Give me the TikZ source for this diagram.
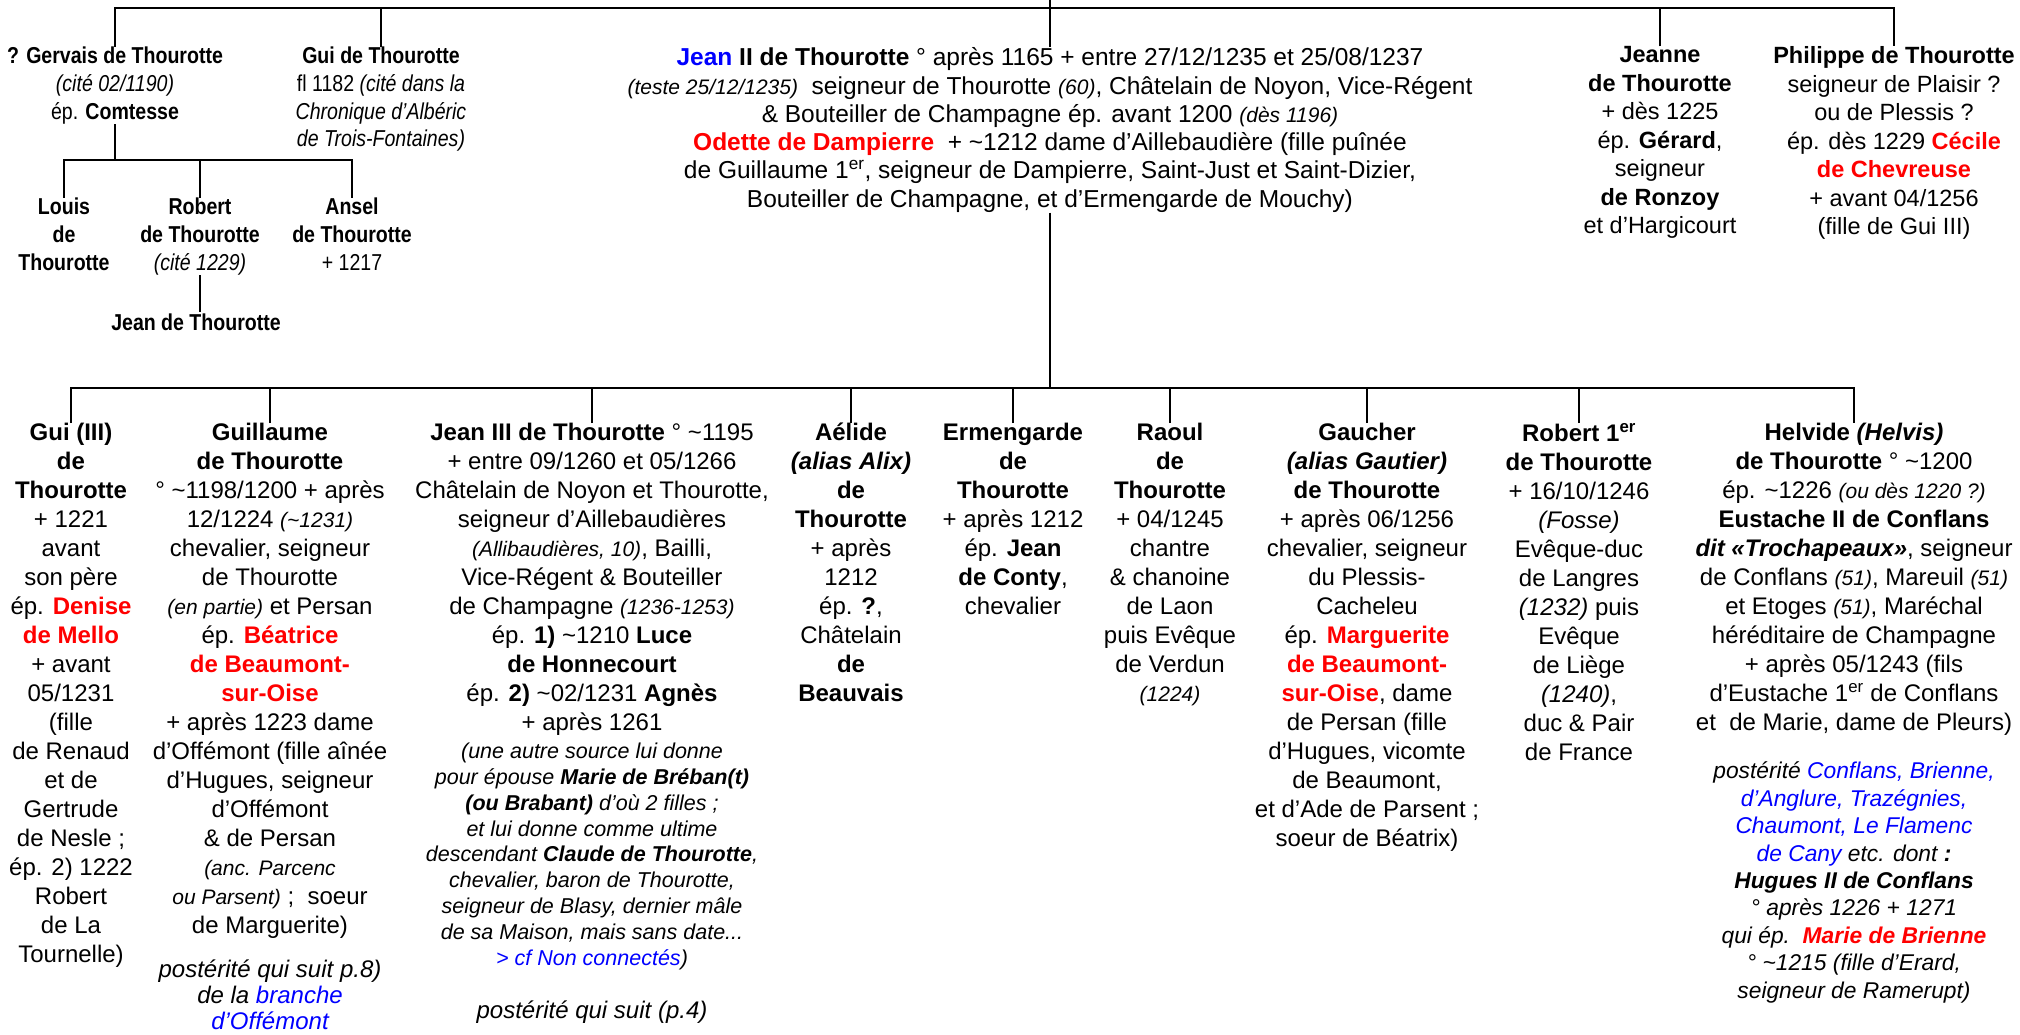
\documentclass[tikz,border=0pt]{standalone}
\usepackage{fontspec}
\setmainfont{Liberation Sans}
\newfontfamily\narrowfont[FakeStretch=0.85]{Liberation Sans}
\usepackage{xcolor}
\newcommand{\rd}[1]{\textcolor{red}{\textbf{#1}}}
\newcommand{\bl}[1]{\textcolor{blue}{#1}}
\newcommand{\sm}[1]{{\fontsize{21}{21}\selectfont\itshape #1}}
\begin{document}
\begin{tikzpicture}[x=1pt, y=-1pt,
	link/.style={line width=2.6pt},
	txt/.style={align=center, inner sep=0pt, anchor=north, execute at begin node={\rule{0pt}{0.78em}}},
	upper/.style={txt, font=\narrowfont\fontsize{23}{27.7}\selectfont},
	jeanii/.style={txt, font=\fontsize{24.5}{28.3}\selectfont},
	aunt/.style={txt, font=\fontsize{23.5}{28.5}\selectfont},
	kid/.style={txt, font=\fontsize{24}{29}\selectfont},
	kidpost/.style={txt, font=\itshape\fontsize{24}{26}\selectfont},
	kidnote/.style={txt, font=\itshape\fontsize{21.5}{25.8}\selectfont},
	heirs/.style={txt, font=\itshape\fontsize{22.8}{27.4}\selectfont}]
				\useasboundingbox (0,0) rectangle (2020,1035);
				\coordinate (root) at (1050,0);
				\coordinate (topbar) at (0,8);
				\coordinate (gervbar) at (0,160);
				\coordinate (kidsbar) at (0,388);
				% first generation
				\node[upper] (gervais) at (115,47) {\textbf{? Gervais de Thourotte}\\ \textit{(cité 02/1190)}\\ ép. \textbf{Comtesse}};
				\node[upper] (guiT) at (381,47) {\textbf{Gui de Thourotte}\\ fl 1182 \textit{(cité dans la}\\ \textit{Chronique d’Albéric}\\ \textit{de Trois-Fontaines)}};
				\node[jeanii] (jean2) at (1050,47.5) {\textcolor{blue}{\textbf{Jean}} \textbf{II de Thourotte} ° après 1165 + entre 27/12/1235 et 25/08/1237\\
					\sm{(teste 25/12/1235)}\ \ seigneur de Thourotte \sm{(60)}, Châtelain de Noyon, Vice-Régent\\
					\& Bouteiller de Champagne ép. avant 1200 \sm{(dès 1196)}\\
					\rd{Odette de Dampierre}\ \ + \textasciitilde1212 dame d’Aillebaudière (fille puînée\\
					de Guillaume 1\textsuperscript{er}, seigneur de Dampierre, Saint-Just et Saint-Dizier,\\
					Bouteiller de Champagne, et d’Ermengarde de Mouchy)};
				\node[aunt] (jeanne) at (1660,46.4) {\textbf{Jeanne}\\ \textbf{de Thourotte}\\ + dès 1225\\ ép. \textbf{Gérard},\\ seigneur\\ \textbf{de Ronzoy}\\ et d’Hargicourt};
				\node[aunt] (philippe) at (1894,46.4) {\textbf{Philippe de Thourotte}\\ seigneur de Plaisir ?\\ ou de Plessis ?\\ ép. dès 1229 \rd{Cécile}\\ \rd{de Chevreuse}\\ + avant 04/1256\\ (fille de Gui III)};
				% sons of Gervais
				\node[upper] (louis) at (64,198) {\textbf{Louis}\\ \textbf{de}\\ \textbf{Thourotte}};
				\node[upper] (robert) at (200,198) {\textbf{Robert}\\ \textbf{de Thourotte}\\ \textit{(cité 1229)}};
				\node[upper] (ansel) at (352,198) {\textbf{Ansel}\\ \textbf{de Thourotte}\\ + 1217};
				\node[upper] (jeanT) at (196,312) {\textbf{Jean de Thourotte}};
				% children of Jean II
				\node[kid] (guiiii) at (71,423) {\textbf{Gui (III)}\\ \textbf{de}\\ \textbf{Thourotte}\\ + 1221\\ avant\\ son père\\ ép. \rd{Denise}\\ \rd{de Mello}\\ + avant\\ 05/1231\\ (fille\\ de Renaud\\ et de\\ Gertrude\\ de Nesle ;\\ ép. 2) 1222\\ Robert\\ de La\\ Tournelle)};
				\node[kid] (guillaume) at (270,423) {\textbf{Guillaume}\\ \textbf{de Thourotte}\\ ° \textasciitilde1198/1200 + après\\ 12/1224 \sm{(\textasciitilde1231)}\\ chevalier, seigneur\\ de Thourotte\\ \sm{(en partie)} et Persan\\ ép. \rd{Béatrice}\\ \rd{de Beaumont-}\\ \rd{sur-Oise}\\ + après 1223 dame\\ d’Offémont (fille aînée\\ d’Hugues, seigneur\\ d’Offémont\\ \& de Persan\\ \sm{(anc. Parcenc}\\ \sm{ou Parsent)} ;\ \ soeur\\ de Marguerite)};
				\node[kidpost] (guillaumepost) at (270,960) {postérité qui suit p.8)\\ de la \bl{branche}\\ \bl{d’Offémont}};
				\node[kid] (jean3) at (592,423) {\textbf{Jean III de Thourotte} ° \textasciitilde1195\\ + entre 09/1260 et 05/1266\\ Châtelain de Noyon et Thourotte,\\ seigneur d’Aillebaudières\\ \sm{(Allibaudières, 10)}, Bailli,\\ Vice-Régent \& Bouteiller\\ de Champagne \sm{(1236-1253)}\\ ép. \textbf{1)} \textasciitilde1210 \textbf{Luce}\\ \textbf{de Honnecourt}\\ ép. \textbf{2)} \textasciitilde02/1231 \textbf{Agnès}\\ + après 1261};
				\node[kidnote] (jean3note) at (592,743) {(une autre source lui donne\\ pour épouse \textbf{Marie de Bréban(t)}\\ \textbf{(ou Brabant)} d’où 2 filles ;\\ et lui donne comme ultime\\ descendant \textbf{Claude de Thourotte},\\ chevalier, baron de Thourotte,\\ seigneur de Blasy, dernier mâle\\ de sa Maison, mais sans date...\\ \bl{> cf Non connectés})};
				\node[kidpost] (jean3post) at (592,1000) {postérité qui suit (p.4)};
				\node[kid] (aelide) at (851,423) {\textbf{Aélide}\\ \textbf{\textit{(alias Alix)}}\\ \textbf{de}\\ \textbf{Thourotte}\\ + après\\ 1212\\ ép. \textbf{?},\\ Châtelain\\ \textbf{de}\\ \textbf{Beauvais}};
				\node[kid] (ermengarde) at (1013,423) {\textbf{Ermengarde}\\ \textbf{de}\\ \textbf{Thourotte}\\ + après 1212\\ ép. \textbf{Jean}\\ \textbf{de Conty},\\ chevalier};
				\node[kid] (raoul) at (1170,423) {\textbf{Raoul}\\ \textbf{de}\\ \textbf{Thourotte}\\ + 04/1245\\ chantre\\ \& chanoine\\ de Laon\\ puis Evêque\\ de Verdun\\ \sm{(1224)}};
				\node[kid] (gaucher) at (1367,423) {\textbf{Gaucher}\\ \textbf{\textit{(alias Gautier)}}\\ \textbf{de Thourotte}\\ + après 06/1256\\ chevalier, seigneur\\ du Plessis-\\ Cacheleu\\ ép. \rd{Marguerite}\\ \rd{de Beaumont-}\\ \rd{sur-Oise}, dame\\ de Persan (fille\\ d’Hugues, vicomte\\ de Beaumont,\\ et d’Ade de Parsent ;\\ soeur de Béatrix)};
				\node[kid] (robert1) at (1579,423) {\textbf{Robert 1\textsuperscript{er}}\\ \textbf{de Thourotte}\\ + 16/10/1246\\ \textit{(Fosse)}\\ Evêque-duc\\ de Langres\\ \textit{(1232)} puis\\ Evêque\\ de Liège\\ \textit{(1240)},\\ duc \& Pair\\ de France};
				\node[kid] (helvide) at (1854,423) {\textbf{Helvide \textit{(Helvis)}}\\ \textbf{de Thourotte} ° \textasciitilde1200\\ ép. \textasciitilde1226 \sm{(ou dès 1220 ?)}\\ \textbf{Eustache II de Conflans}\\ \textbf{\textit{dit «Trochapeaux»}}, seigneur\\ de Conflans \sm{(51)}, Mareuil \sm{(51)}\\ et Etoges \sm{(51)}, Maréchal\\ héréditaire de Champagne\\ + après 05/1243 (fils\\ d’Eustache 1\textsuperscript{er} de Conflans\\ et\ \ de Marie, dame de Pleurs)};
				\node[heirs] (helvidepost) at (1854,762) {postérité \bl{Conflans, Brienne,}\\ \bl{d’Anglure, Trazégnies,}\\ \bl{Chaumont, Le Flamenc}\\ \bl{de Cany} etc. dont \textbf{:}\\ \textbf{Hugues II de Conflans}\\ ° après 1226 + 1271\\ qui ép.\ \ \textcolor{red}{\textbf{Marie de Brienne}}\\ ° \textasciitilde1215 (fille d’Erard,\\ seigneur de Ramerupt)};
				% links
				\draw[link] (gervais.north) -- (gervais.north |- topbar) -- (philippe.north |- topbar) -- (philippe.north);
				\foreach \n in {guiT,jeanne} \draw[link] (\n.north) -- (\n.north |- topbar);
				\draw[link] (root) -- (jean2.north);
				\draw[link] (gervais.south) -- (gervais.south |- gervbar);
				\draw[link] (louis.north) -- (louis.north |- gervbar) -- (ansel.north |- gervbar) -- (ansel.north);
				\draw[link] (robert.north) -- (robert.north |- gervbar);
				\draw[link] (robert.south) -- (robert.south |- jeanT.north);
				\draw[link] (jean2.south) -- (jean2.south |- kidsbar);
				\draw[link] (guiiii.north) -- (guiiii.north |- kidsbar) -- (helvide.north |- kidsbar) -- (helvide.north);
				\foreach \n in {guillaume,jean3,aelide,ermengarde,raoul,gaucher,robert1} \draw[link] (\n.north) -- (\n.north |- kidsbar);
			\end{tikzpicture}
\end{document}
